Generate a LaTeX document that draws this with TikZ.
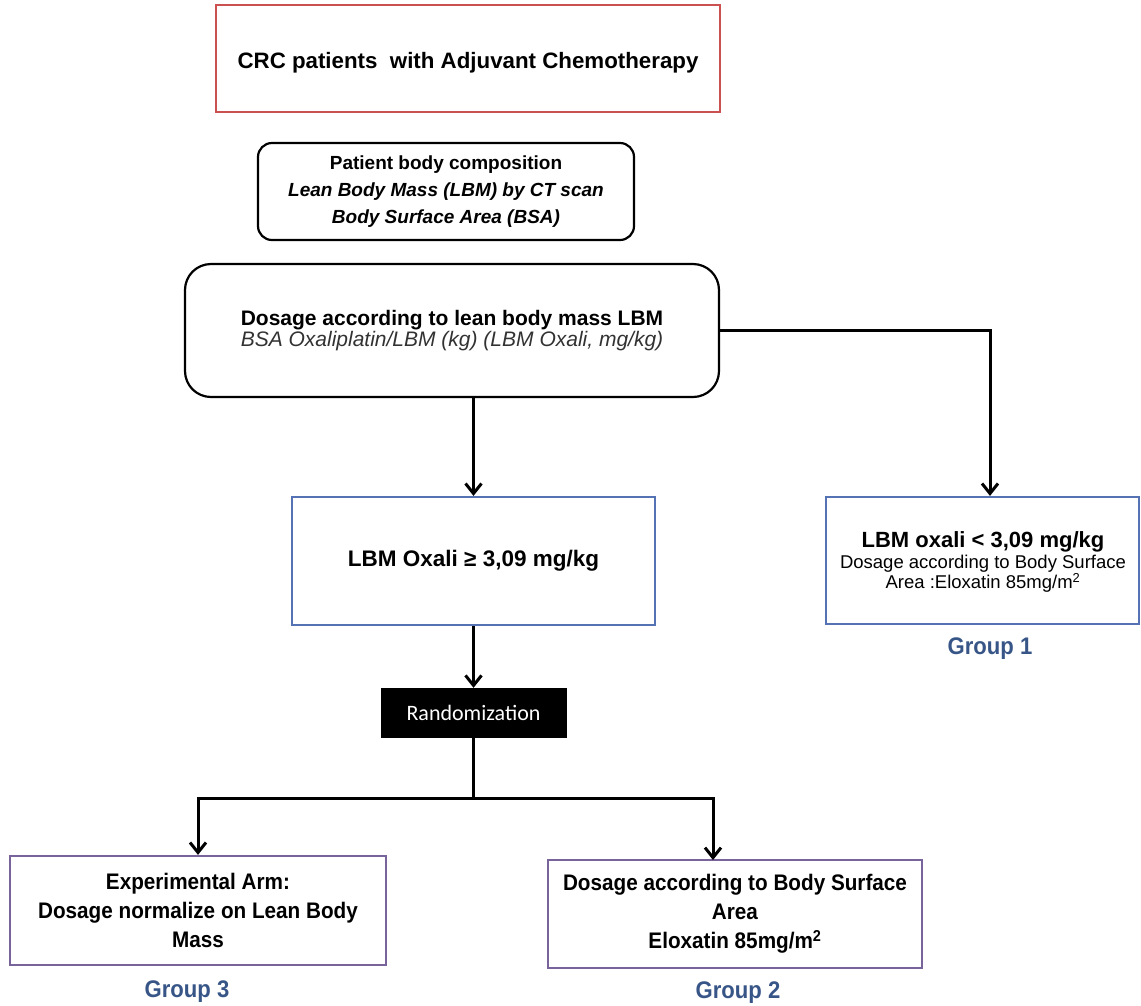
\documentclass[tikz,border=0pt]{standalone}
\usepackage{fontspec}
\setmainfont{Liberation Sans}
\newfontfamily\narrowfont[FakeStretch=0.92]{Liberation Sans}
\newfontfamily\randfont{Carlito}
\usetikzlibrary{arrows.meta}
\definecolor{redbox}{RGB}{205,80,80}
\definecolor{bluebox}{RGB}{85,115,180}
\definecolor{purplebox}{RGB}{120,100,155}
\definecolor{grouptext}{RGB}{55,85,135}
\definecolor{subgray}{RGB}{50,50,50}
\tikzset{
  x=1pt, y=-1pt,
  box/.style={draw, line width=2.2pt, align=center, inner sep=2pt},
  rbox/.style={box, rounded corners=14pt},
  arr/.style={line width=3pt, -{Straight Barb[length=10pt,width=16pt,line width=3pt]}},
  ln/.style={line width=3pt},
  grp/.style={text=grouptext, font=\narrowfont\bfseries\fontsize{24}{28}\selectfont},
  armtext/.style={font=\narrowfont\bfseries\fontsize{22.5}{29}\selectfont},
}
\begin{document}
\begin{tikzpicture}
\useasboundingbox (0,0) rectangle (1141,1005);
\node[box, draw=redbox, line width=1.8pt, minimum width=504pt, minimum height=107pt] (crc) at (468,58.5) {};
\node[font=\bfseries\fontsize{22.3}{26}\selectfont] (crct) at (crc.center) [yshift=-4pt] {CRC patients\ \ with Adjuvant Chemotherapy};
\node[rbox, minimum width=376pt, minimum height=97pt, font=\bfseries\fontsize{19}{27}\selectfont] (pbc) at (446,191.5)
  {Patient body composition\\ \itshape Lean Body Mass (LBM) by CT scan\\ \itshape Body Surface Area (BSA)};
\node[rbox, rounded corners=26pt, minimum width=534pt, minimum height=133pt] (dos) at (452,330.5)
  {{\bfseries\fontsize{21}{24}\selectfont Dosage according to lean body mass LBM}\\[1pt]
   {\color{subgray}\itshape\fontsize{21}{24}\selectfont BSA Oxaliplatin/LBM (kg) (LBM Oxali, mg/kg)}};
\node[box, draw=bluebox, minimum width=363pt, minimum height=128pt, font=\bfseries\fontsize{22.5}{26}\selectfont] (hi) at (473.5,561)
  {LBM Oxali ≥ 3,09 mg/kg};
\node[box, draw=bluebox, minimum width=313pt, minimum height=127pt] (lo) at (982.5,560.5) {};
\node[align=center, inner sep=0pt] (lot) at (983,562)
  {{\bfseries\fontsize{22}{26}\selectfont LBM oxali < 3,09 mg/kg}\\[2pt]
   {\fontsize{18.5}{22}\selectfont Dosage according to Body Surface}\\
   {\fontsize{18.5}{22}\selectfont Area :Eloxatin 85mg/m\textsuperscript{2}}};
\node[grp] (g1) at (990,649) {Group 1};
\node[fill=black, draw=black, minimum width=185pt, minimum height=49pt, text=white,
  font=\randfont\fontsize{22}{26}\selectfont] (rand) at (473.5,712.5) {Randomization};
\node[box, draw=purplebox, minimum width=376pt, minimum height=109pt, armtext] (g3box) at (198,910.5)
  {Experimental Arm:\\ Dosage normalize on Lean Body\\ Mass};
\node[box, draw=purplebox, minimum width=374pt, minimum height=108pt, armtext] (g2box) at (735,914)
  {Dosage according to Body Surface\\ Area\\ Eloxatin 85mg/m\textsuperscript{2}};
\node[grp] (g3) at (187,992) {Group 3};
\node[grp] (g2) at (738,993) {Group 2};
\coordinate (split) at (473.5,798);
\coordinate (rc) at (990,330.5);
\coordinate (g2in) at (713,860);
% connectors
\draw[arr] (dos.south -| hi.north) -- (hi.north);
\draw[arr] (dos.east) -- (rc) -- (rc |- lo.north);
\draw[arr] (hi.south) -- (rand.north);
\draw[ln] (rand.south) -- (split);
\draw[arr] (split) -| (g3box.north);
\draw[arr] (split) -| (g2in);
\end{tikzpicture}
\end{document}
